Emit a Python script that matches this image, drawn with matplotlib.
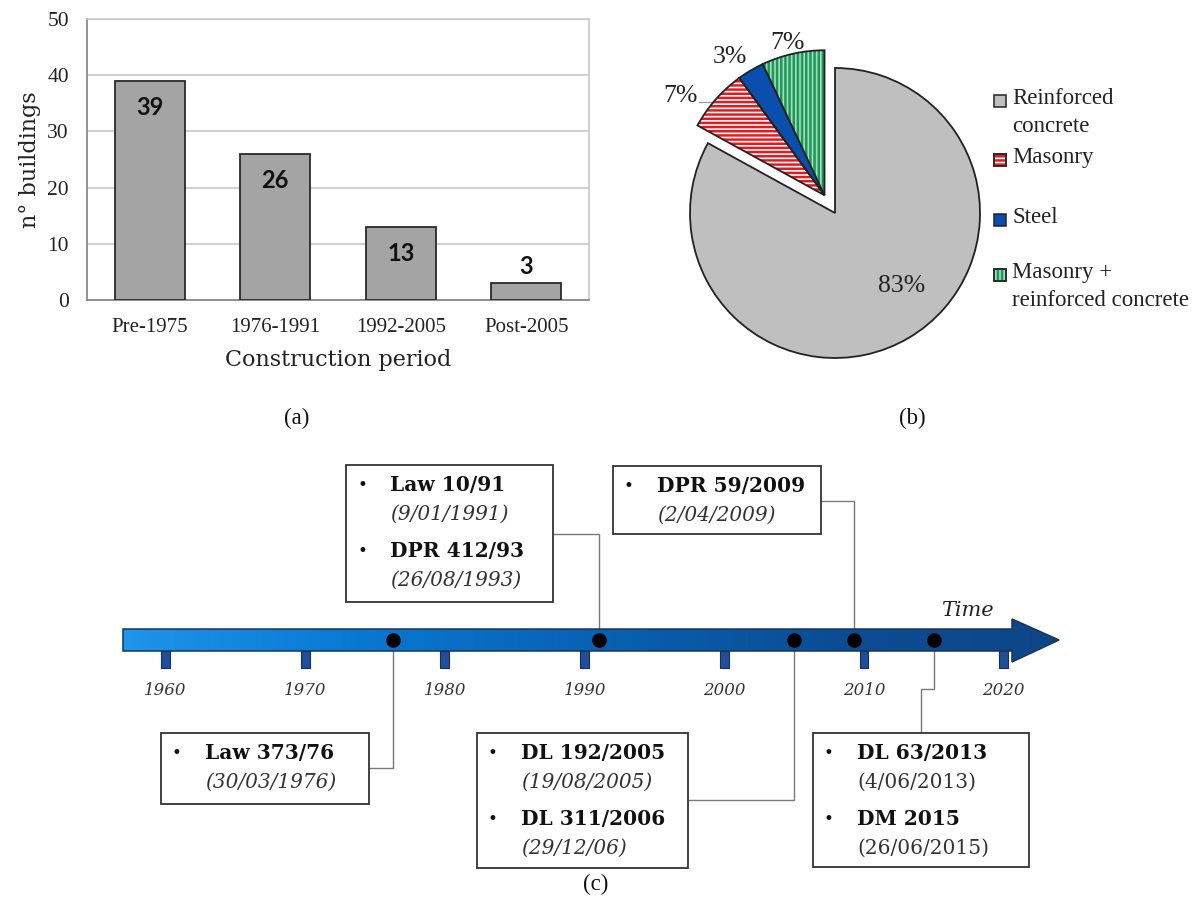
import numpy as np
import matplotlib
matplotlib.use("Agg")
import matplotlib.pyplot as plt
from matplotlib.patches import Rectangle, Wedge, Polygon
from matplotlib.colors import LinearSegmentedColormap

# ---------------- data ----------------
# (a) buildings per construction period
periods = ["Pre-1975", "1976-1991", "1992-2005", "Post-2005"]
n_buildings = [39, 26, 13, 3]

# (b) structural typology shares (%)
typologies = ["Reinforced\nconcrete", "Masonry", "Steel", "Masonry +\nreinforced concrete"]
typology_pct = [83, 7, 3, 7]

# (c) seismic code timeline
decades = [1960, 1970, 1980, 1990, 2000, 2010, 2020]
event_years = [1976.25, 1991.0, 2005.0, 2009.25, 2015.0]
event_titles = [
    ["Law 373/76"],
    ["Law 10/91", "DPR 412/93"],
    ["DL 192/2005", "DL 311/2006"],
    ["DPR 59/2009"],
    ["DL 63/2013", "DM 2015"],
]
event_dates = [
    ["(30/03/1976)"],
    ["(9/01/1991)", "(26/08/1993)"],
    ["(19/08/2005)", "(29/12/06)"],
    ["(2/04/2009)"],
    ["(4/06/2013)", "(26/06/2015)"],
]
date_italic = [True, True, True, True, False]

# ---------------- figure ----------------
W, H = 1196, 905
fig = plt.figure(figsize=(W / 100, H / 100), dpi=100)
fig.patch.set_facecolor("white")

SERIF = "Liberation Serif"
CAMB = "DejaVu Serif"


def fbox(left, top, right, bottom):
    """pixel box -> figure fraction rect"""
    return [left / W, 1 - bottom / H, (right - left) / W, (bottom - top) / H]


# ---------------- (a) bar chart ----------------
axb = fig.add_axes(fbox(87, 19, 589, 300))
x = np.arange(len(periods))
axb.bar(x, n_buildings, width=0.56, color="#a4a4a4", edgecolor="#2a2a2a",
        linewidth=1.3, zorder=3)
axb.set_xlim(-0.5, len(periods) - 0.5)
axb.set_ylim(0, 50)
axb.set_yticks(range(0, 51, 10))
axb.set_xticks(x)
axb.set_xticklabels(periods, fontfamily=SERIF, fontsize=15, color="#222222")
for t in axb.get_yticklabels():
    t.set_fontfamily(SERIF)
    t.set_fontsize(15.5)
    t.set_color("#222222")
axb.tick_params(axis="both", length=0)
axb.tick_params(axis="y", pad=13)
axb.tick_params(axis="x", pad=13)
axb.grid(axis="y", color="#c8c8c8", linewidth=1.2, zorder=0)
axb.set_axisbelow(True)
for side in ("top", "right"):
    axb.spines[side].set_color("#c8c8c8")
    axb.spines[side].set_linewidth(1.2)
for side in ("left", "bottom"):
    axb.spines[side].set_color("#8a8a8a")
    axb.spines[side].set_linewidth(1.3)
axb.set_ylabel("n° buildings", fontfamily=CAMB, fontsize=16, color="#222222")
axb.set_xlabel("Construction period", fontfamily=CAMB, fontsize=16, color="#222222")
axb.yaxis.set_label_coords(-0.092, 0.5)
axb.xaxis.set_label_coords(0.5, -0.175)
for xi, v in zip(x, n_buildings):
    if v >= 10:
        axb.annotate(str(v), (xi, v), xytext=(0, -19), textcoords="offset points",
                     ha="center", va="center", fontfamily="Lato",
                     fontweight="bold", fontsize=17, color="#111111", zorder=4)
    else:
        axb.annotate(str(v), (xi, v), xytext=(0, 12), textcoords="offset points",
                     ha="center", va="center", fontfamily="Lato",
                     fontweight="bold", fontsize=17, color="#111111", zorder=4)

# ---------------- (b) pie chart ----------------
R_PX = 145.0
cx, cy = 835, 213
half = 195
axp = fig.add_axes(fbox(cx - half, cy - half, cx + half, cy + half))
plt.rcParams["hatch.linewidth"] = 1.8

pie_face = ["#bfbfbf", "white", "#0a4fae", "#a6dcbc"]
wedges, _ = axp.pie(typology_pct, startangle=90, counterclock=False,
                    colors=pie_face,
                    wedgeprops=dict(edgecolor="#222222", linewidth=1.3))
lim = half / R_PX
axp.set_xlim(-lim, lim)
axp.set_ylim(-lim, lim)
axp.set_aspect("equal")
axp.axis("off")

# small slices pulled out together along their common bisector
t_lo = wedges[1].theta1
t_hi = wedges[3].theta2
mid = np.deg2rad((t_lo + t_hi) / 2)
off = 0.142
dx, dy = off * np.cos(mid), off * np.sin(mid)
for w in wedges[1:]:
    w.set_center((dx, dy))

hatch_style = {1: ("#e8191e", "----"), 3: ("#19995a", "||||")}
for i, (col, hatch) in hatch_style.items():
    w = wedges[i]
    w.set_edgecolor(col)
    w.set_hatch(hatch)
    w.set_linewidth(0)
    outline = Wedge((dx, dy), 1, w.theta1, w.theta2, fill=False,
                    edgecolor="#222222", linewidth=1.3, zorder=3)
    axp.add_patch(outline)

pct_kw = dict(fontfamily=SERIF, fontsize=18.5, color="#222222",
              ha="center", va="center")
axp.text(0.462, -0.503, f"{typology_pct[0]}%", **pct_kw)
axp.text(-1.069, 0.807, f"{typology_pct[1]}%", **pct_kw)
axp.plot([-0.938, -0.848], [0.766, 0.766], color="#9a9a9a", lw=0.9)
axp.text(-0.724, 1.076, f"{typology_pct[2]}%", **pct_kw)
axp.text(-0.331, 1.172, f"{typology_pct[3]}%", **pct_kw)

# legend drawn beside the pie
leg_y = [101, 160, 220, 275]
sq = 12
for i, (lab, y) in enumerate(zip(typologies, leg_y)):
    face = pie_face[i]
    r = Rectangle((994 / W, 1 - (y + sq / 2) / H), sq / W, sq / H,
                  transform=fig.transFigure, facecolor=face,
                  edgecolor="#222222", linewidth=1.1)
    fig.add_artist(r)
    if i in hatch_style:
        col, hatch = hatch_style[i]
        r2 = Rectangle((994 / W, 1 - (y + sq / 2) / H), sq / W, sq / H,
                       transform=fig.transFigure, facecolor="none",
                       edgecolor=col, hatch=hatch, linewidth=0)
        fig.add_artist(r2)
        r3 = Rectangle((994 / W, 1 - (y + sq / 2) / H), sq / W, sq / H,
                       transform=fig.transFigure, facecolor="none",
                       edgecolor="#222222", linewidth=1.1)
        fig.add_artist(r3)
    fig.text(1012 / W, 1 - (y - 13) / H, lab, fontfamily=SERIF, fontsize=16.5,
             color="#222222", ha="left", va="top", linespacing=1.45)

# panel letters
for lab, px, py in [("(a)", 297, 418), ("(b)", 912, 418), ("(c)", 596, 884)]:
    fig.text(px / W, 1 - py / H, lab, fontfamily=SERIF, fontsize=16.5,
             color="#111111", ha="center", va="center")

# ---------------- (c) timeline ----------------
axt = fig.add_axes([0, 0, 1, 1], zorder=-1)
axt.patch.set_alpha(0)
PX0, PPY = 165.5, 13.97  # 1960 at x=165.5 px, px per year
axt.set_xlim(1960 - PX0 / PPY, 1960 + (W - PX0) / PPY)
axt.set_ylim(H, 0)
axt.axis("off")
x0, x1 = axt.get_xlim()


def yr(px):
    return x0 + px / W * (x1 - x0)


# arrow with horizontal gradient
a_start, a_base, a_tip = yr(123), yr(1012), yr(1059)
shaft_top, shaft_bot = 629, 651
head_top, head_bot, mid_y = 619, 662, 640
verts = [(a_start, shaft_top), (a_base, shaft_top), (a_base, head_top),
         (a_tip, mid_y), (a_base, head_bot), (a_base, shaft_bot),
         (a_start, shaft_bot)]
arrow = Polygon(verts, closed=True, facecolor="none", edgecolor="#1c3552",
                linewidth=1.1, zorder=3)
axt.add_patch(arrow)
cmap = LinearSegmentedColormap.from_list(
    "tl", ["#1d95ea", "#0a78d2", "#0862b4", "#0b4e96", "#0d4688"])
grad = np.linspace(0, 1, 256).reshape(1, -1)
img = axt.imshow(grad, cmap=cmap, aspect="auto",
                 extent=(a_start, a_tip, head_bot, head_top), zorder=2)
img.set_clip_path(arrow)

# decade ticks and labels
for d in decades:
    axt.add_patch(Rectangle((d - 0.32, shaft_bot), 0.64, 17,
                            facecolor="#1f4f9a", edgecolor="#13305a",
                            linewidth=0.8, zorder=1))
    axt.text(d, 690, str(d), fontfamily=CAMB, style="italic", fontsize=12,
             color="#333333", ha="center", va="center")

axt.text(yr(967), 610, "Time", fontfamily=CAMB, style="italic", fontsize=15,
         color="#222222", ha="center", va="center")

# event markers
axt.plot(event_years, [mid_y] * len(event_years), "o", color="black",
         markersize=9.5, zorder=5)

# text boxes: (left, top, right, bottom) in px, plus connector route
boxes = [
    (161, 733, 369, 804),
    (346, 465, 553, 602),
    (477, 733, 688, 868),
    (613, 466, 821, 534),
    (813, 733, 1029, 867),
]
side_y = [768, 534, 800, 501, None]
line_c = "#7a7a7a"
for k, (l, t, r, b) in enumerate(boxes):
    axt.add_patch(Rectangle((yr(l), t), yr(r) - yr(l), b - t, facecolor="white",
                            edgecolor="#333333", linewidth=1.3, zorder=4))
    ev = event_years[k]
    if side_y[k] is not None:
        axt.plot([yr(r), ev, ev], [side_y[k], side_y[k], mid_y], color=line_c,
                 lw=1.0, zorder=1)
    else:
        xc = yr(921)
        axt.plot([xc, xc, ev, ev], [t, 689, 689, mid_y], color=line_c,
                 lw=1.0, zorder=1)
    for j, (ttl, dt) in enumerate(zip(event_titles[k], event_dates[k])):
        ty = t + 20 + 66 * j
        axt.text(yr(l + 11), ty, "•", fontfamily=CAMB, fontsize=12,
                 color="#111111", ha="left", va="center", zorder=6)
        axt.text(yr(l + 44), ty, ttl, fontfamily=CAMB, fontweight="bold",
                 fontsize=14.5, color="#111111", ha="left", va="center", zorder=6)
        axt.text(yr(l + 44), ty + 29, dt, fontfamily=CAMB,
                 style="italic" if date_italic[k] else "normal",
                 fontsize=14.5, color="#333333", ha="left", va="center", zorder=6)

fig.savefig("out.png", dpi=100, facecolor="white")
